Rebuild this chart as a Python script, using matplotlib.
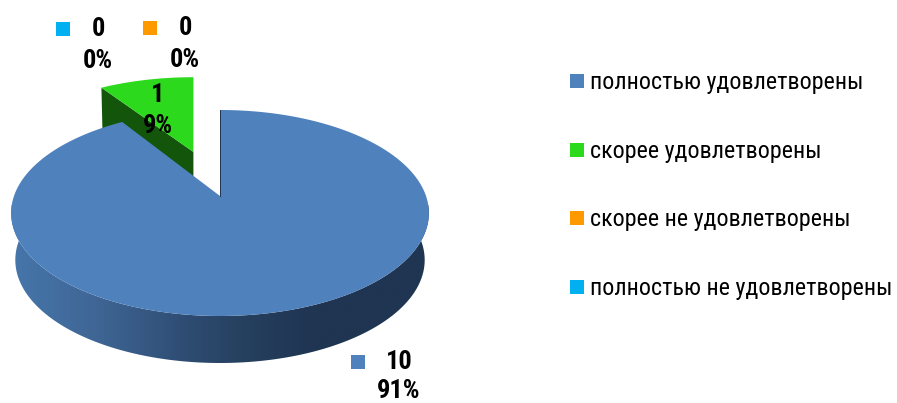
import numpy as np
import matplotlib
matplotlib.use("Agg")
import matplotlib.pyplot as plt
from matplotlib.patches import Polygon, Rectangle
from matplotlib import font_manager as fm

categories = ["полностью удовлетворены", "скорее удовлетворены",
              "скорее не удовлетворены", "полностью не удовлетворены"]
values = [10, 1, 0, 0]
percents = ["91%", "9%", "0%", "0%"]
colors = ["#4F81BD", "#2CD91C", "#FF9900", "#00B0F0"]
side_colors = ["#1F3552", "#14550C"]

names = {f.name for f in fm.fontManager.ttflist}
family = next((n for n in ["Liberation Sans Narrow", "Roboto Condensed", "PT Sans Narrow",
                           "Fira Sans Condensed", "Liberation Sans"] if n in names), "DejaVu Sans")
plt.rcParams["font.family"] = [family, "DejaVu Sans"]

W, H = 897, 403
fig = plt.figure(figsize=(W / 100, H / 100), dpi=100)
ax = fig.add_axes([0, 0, 1, 1])
ax.set_xlim(0, W)
ax.set_ylim(H, 0)
ax.axis("off")

# perspective of the tilted pie disc
X0, Y0, B, A, K = 220.0, 196.0, 206.0, 100.2, 0.165
DEPTH = 47.0
EXPLODE = 0.494
GREEN_ARC_SHIFT = -3.5


def project(u, v, drop=0.0):
    d = 1 - K * v
    return X0 + B * u / d, Y0 + A * v / d + drop


def arc(a0, a1, offset=(0.0, 0.0), n=200):
    t = np.radians(np.linspace(a0, a1, n))
    return project(np.sin(t) + offset[0], -np.cos(t) + offset[1])


total = sum(values)
main_sweep = 360 * values[0] / total
green_sweep = 360 * values[1] / total

# exploded green wedge
mid = main_sweep + green_sweep / 2
off = (EXPLODE * np.sin(np.radians(mid)), -EXPLODE * np.cos(np.radians(mid)))
gx, gy = arc(main_sweep, main_sweep + green_sweep, off)
gx = gx + GREEN_ARC_SHIFT
ax_, ay_ = project(off[0], off[1])
ax.add_patch(Polygon([(gx[0], gy[0]), (ax_, ay_), (ax_, ay_ + DEPTH * 0.9), (gx[0] + 1, gy[0] + DEPTH * 0.9)],
                     closed=True, fc=side_colors[1], ec="none", zorder=2))
ax.add_patch(Polygon(list(zip(gx, gy)) + [(ax_, ay_)], closed=True, fc=colors[1], ec="none", zorder=3))

# main wedge: rim with left-to-right shading
tx, ty = arc(0, main_sweep, n=600)
front = np.radians(np.linspace(80, 280, 400))
fx, fy = project(np.sin(front), -np.cos(front))
bx, by = project(np.sin(front) * 0.98, -np.cos(front), DEPTH)
rim = Polygon(list(zip(fx, fy)) + list(zip(bx[::-1], by[::-1])), closed=True, fc="none", ec="none", zorder=4)
ax.add_patch(rim)
grad = np.linspace(0, 1, 256).reshape(1, -1)
cmap = matplotlib.colors.LinearSegmentedColormap.from_list(
    "rim", [(0, "#4676AB"), (0.2, "#3F6695"), (0.42, "#2E4C72"), (0.55, "#26405F"), (0.72, "#1F3552"), (1, "#1F3552")])
im = ax.imshow(grad, extent=[11, 431, 370, 205], aspect="auto", cmap=cmap, zorder=4)
im.set_clip_path(rim)
ax.set_xlim(0, W)
ax.set_ylim(H, 0)
ax.add_patch(Polygon(list(zip(tx, ty)) + [(X0, Y0)], closed=True, fc=colors[0], ec="none", zorder=5))
ax.plot([X0, X0], [110, Y0], color="#1F3552", lw=0.7, zorder=6)

# data labels: swatch, count, percent
label_pos = [(399, 362, 399, 391, 351), (158, 95, 158, 126, None),
             (185, 28, 185, 60, 143), (98, 29, 98, 61, 56)]
for i, (xc, yc, xp, yp, sw) in enumerate(label_pos):
    ax.text(xc, yc, str(values[i]), ha="center", va="center", fontsize=19, fontweight="bold", color="black", zorder=8)
    ax.text(xp, yp, percents[i], ha="center", va="center", fontsize=19, fontweight="bold", color="black", zorder=8)
    if sw is not None:
        ax.add_patch(Rectangle((sw, yc - 7), 14, 14, fc=colors[i], ec="none", zorder=8))

# legend
legend_y = [81, 150, 218, 287]
for name, c, y in zip(categories, colors, legend_y):
    ax.add_patch(Rectangle((570, y - 7), 14, 14, fc=c, ec="none", zorder=8))
    ax.text(590, y + 1.5, name, ha="left", va="center", fontsize=17.3, color="black", zorder=8)

fig.savefig("out.png", dpi=100)
